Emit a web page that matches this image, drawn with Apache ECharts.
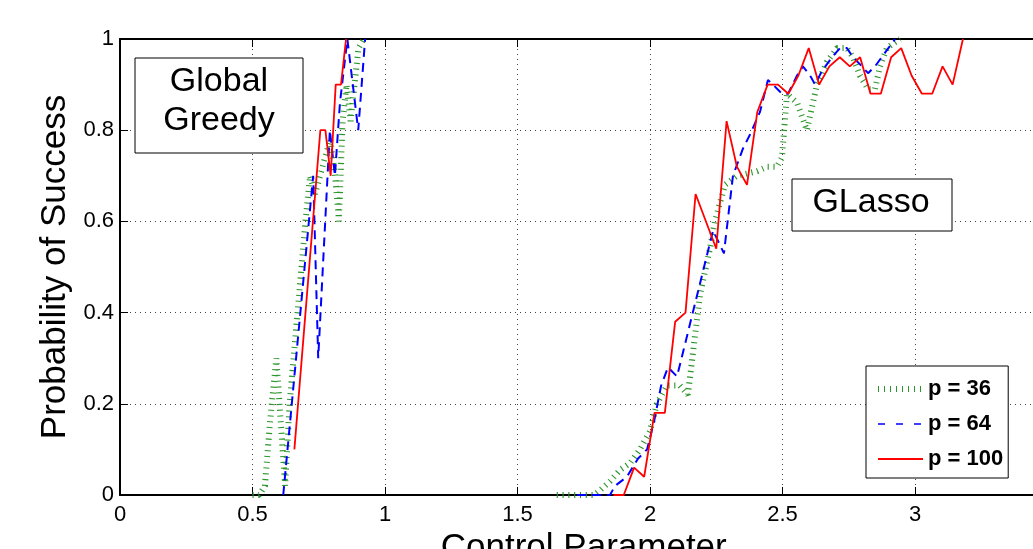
<!DOCTYPE html>
<html>
<head>
<meta charset="utf-8">
<script src="https://cdn.jsdelivr.net/npm/echarts@6.0.0/dist/echarts.min.js"></script>
<style>
  html, body { margin: 0; padding: 0; background: #fff; }
  #main { width: 1033px; height: 549px; }
</style>
</head>
<body>
<div id="main"></div>
<script>
// p = 36 (green, dotted)
var p36GreedyX = [0.500, 0.525, 0.547, 0.566, 0.590, 0.623, 0.640, 0.700, 0.717, 0.736, 0.755, 0.774, 0.793, 0.812, 0.826, 0.840, 0.855, 0.870, 0.885, 0.900, 0.920];
var p36GreedyY = [0, 0, 0.02, 0.16, 0.30, 0.02, 0.20, 0.60, 0.70, 0.66, 0.70, 0.74, 0.78, 0.70, 0.60, 0.82, 0.90, 0.82, 0.90, 0.98, 1.00];
var p36GlassoX = [1.648, 1.790, 1.811, 1.849, 1.887, 1.925, 1.962, 2.000, 2.026, 2.064, 2.113, 2.143, 2.189, 2.226, 2.245, 2.283, 2.328, 2.404, 2.442, 2.479, 2.498, 2.517, 2.555, 2.592, 2.630, 2.668, 2.706, 2.743, 2.766, 2.792, 2.823, 2.849, 2.868, 2.894, 2.917, 2.943];
var p36GlassoY = [0, 0, 0.01, 0.03, 0.055, 0.07, 0.10, 0.14, 0.20, 0.24, 0.24, 0.22, 0.44, 0.54, 0.60, 0.68, 0.70, 0.71, 0.72, 0.72, 0.74, 0.88, 0.86, 0.80, 0.90, 0.95, 0.98, 0.98, 0.96, 0.92, 0.89, 0.89, 0.94, 0.98, 0.99, 1.00];

// p = 64 (blue, dashed)
var p64GreedyX = [0.616, 0.729, 0.748, 0.792, 0.811, 0.830, 0.858, 0.899, 0.925];
var p64GreedyY = [0, 0.70, 0.30, 0.80, 0.70, 0.86, 1.00, 0.80, 1.00];
var p64GlassoX = [1.725, 1.849, 1.868, 1.913, 1.955, 1.989, 2.015, 2.042, 2.068, 2.102, 2.238, 2.279, 2.313, 2.351, 2.377, 2.415, 2.445, 2.464, 2.498, 2.521, 2.555, 2.577, 2.604, 2.623, 2.649, 2.687, 2.717, 2.743, 2.766, 2.800, 2.823, 2.849, 2.887, 2.925];
var p64GlassoY = [0, 0, 0.02, 0.04, 0.08, 0.10, 0.16, 0.24, 0.28, 0.26, 0.58, 0.53, 0.70, 0.76, 0.79, 0.84, 0.91, 0.90, 0.88, 0.88, 0.92, 0.94, 0.92, 0.90, 0.93, 0.96, 0.98, 0.98, 0.96, 0.94, 0.925, 0.94, 0.97, 1.00];

// p = 100 (red, solid)
var p100GreedyX = [0.658, 0.756, 0.775, 0.795, 0.814, 0.834, 0.853];
var p100GreedyY = [0.10, 0.80, 0.80, 0.70, 0.90, 0.90, 1.00];
var p100GlassoX = [1.862, 1.901, 1.940, 1.978, 2.017, 2.056, 2.095, 2.134, 2.172, 2.250, 2.289, 2.328, 2.366, 2.405, 2.444, 2.483, 2.522, 2.560, 2.599, 2.638, 2.677, 2.716, 2.754, 2.793, 2.832, 2.871, 2.910, 2.948, 2.987, 3.026, 3.065, 3.104, 3.142, 3.181];
var p100GlassoY = [0, 0, 0.06, 0.04, 0.18, 0.18, 0.38, 0.40, 0.66, 0.54, 0.82, 0.72, 0.68, 0.84, 0.90, 0.90, 0.88, 0.92, 0.98, 0.90, 0.94, 0.96, 0.94, 0.96, 0.88, 0.88, 0.96, 0.98, 0.92, 0.88, 0.88, 0.94, 0.90, 1.00];

var legendNames = ["p = 36", "p = 64", "p = 100"];

function pairs(xs, ys) {
  return xs.map(function (x, i) { return [x, ys[i]]; });
}

var FONT = "Liberation Sans, Helvetica, Arial, sans-serif";
var green = "#2a952a", blue = "#0000ff", red = "#ff0000";
var greenLine = { color: green, width: 6, type: [1.1, 4.7], cap: "butt" };
var blueLine = { color: blue, width: 2, type: [9, 6] };
var redLine = { color: red, width: 1.8 };
var noSymbol = { color: "rgba(0,0,0,0)", borderWidth: 0, opacity: 0 };

var myChart = echarts.init(document.getElementById("main"));
var option = {
  animation: false,
  backgroundColor: "#fff",
  grid: { left: 120, top: 39, width: 927.5, height: 456, outerBoundsMode: "none", containLabel: false },
  legend: {
    left: 866,
    top: 366,
    orient: "vertical",
    selectedMode: false,
    backgroundColor: "#fff",
    borderColor: "#000",
    borderWidth: 1,
    borderRadius: 0,
    padding: [12, 5, 8, 9],
    itemGap: 13,
    itemWidth: 45,
    itemHeight: 14,
    itemStyle: noSymbol,
    textStyle: { fontFamily: FONT, fontSize: 22, fontWeight: "bold", color: "#000" },
    data: [
      { name: legendNames[0], itemStyle: noSymbol, lineStyle: { color: green, width: 6, type: [1, 5] } },
      { name: legendNames[1], itemStyle: noSymbol, lineStyle: { color: blue, width: 1.6, type: [7, 11] } },
      { name: legendNames[2], itemStyle: noSymbol, lineStyle: { color: red, width: 1.8 } },
    ],
  },
  xAxis: [
    {
      type: "value",
      min: 0,
      max: 3.5,
      interval: 0.5,
      position: "bottom",
      name: "Control Parameter",
      nameLocation: "middle",
      nameGap: 24,
      nameTextStyle: { fontFamily: FONT, fontSize: 35, color: "#000" },
      axisLine: { onZero: false, lineStyle: { color: "#000", width: 2 } },
      axisTick: { inside: true, length: 8, lineStyle: { color: "#000" } },
      axisLabel: { margin: 9, fontFamily: FONT, fontSize: 22, color: "#000" },
      splitLine: { show: true, lineStyle: { color: "#444", width: 1, type: [1, 4] } },
    },
    {
      type: "value",
      min: 0,
      max: 3.5,
      interval: 0.5,
      position: "top",
      axisLine: { onZero: false, lineStyle: { color: "#000", width: 2 } },
      axisTick: { inside: true, length: 8, lineStyle: { color: "#000" } },
      axisLabel: { show: false },
      splitLine: { show: false },
    },
  ],
  yAxis: {
    type: "value",
    min: 0,
    max: 1,
    interval: 0.2,
    name: "Probability of Success",
    nameLocation: "middle",
    nameRotate: 90,
    nameGap: 46,
    nameTextStyle: { fontFamily: FONT, fontSize: 35, color: "#000" },
    axisLine: { onZero: false, lineStyle: { color: "#000", width: 2 } },
    axisTick: { inside: true, length: 8, lineStyle: { color: "#000" } },
    axisLabel: { margin: 6, fontFamily: FONT, fontSize: 22, color: "#000" },
    splitLine: { show: true, lineStyle: { color: "#444", width: 1, type: [1, 4] } },
  },
  graphic: [
    {
      type: "rect",
      shape: { x: 135, y: 58, width: 168, height: 95 },
      style: { fill: "#fff", stroke: "#000", lineWidth: 1 },
      z: 10,
    },
    {
      type: "text",
      x: 219,
      y: 101,
      style: {
        text: "Global\nGreedy",
        fontFamily: FONT,
        fontSize: 34,
        lineHeight: 39,
        fill: "#000",
        align: "center",
        verticalAlign: "middle",
      },
      z: 11,
    },
    {
      type: "rect",
      shape: { x: 792, y: 179, width: 160, height: 52 },
      style: { fill: "#fff", stroke: "#000", lineWidth: 1 },
      z: 10,
    },
    {
      type: "text",
      x: 871,
      y: 203,
      style: {
        text: "GLasso",
        fontFamily: FONT,
        fontSize: 34,
        fill: "#000",
        align: "center",
        verticalAlign: "middle",
      },
      z: 11,
    },
  ],
  series: [
    { name: legendNames[0], type: "line", symbol: "none", lineStyle: greenLine, itemStyle: { color: green }, data: pairs(p36GreedyX, p36GreedyY) },
    { name: legendNames[0], type: "line", symbol: "none", lineStyle: greenLine, itemStyle: { color: green }, data: pairs(p36GlassoX, p36GlassoY) },
    { name: legendNames[1], type: "line", symbol: "none", lineStyle: blueLine, itemStyle: { color: blue }, data: pairs(p64GreedyX, p64GreedyY) },
    { name: legendNames[1], type: "line", symbol: "none", lineStyle: blueLine, itemStyle: { color: blue }, data: pairs(p64GlassoX, p64GlassoY) },
    { name: legendNames[2], type: "line", symbol: "none", lineStyle: redLine, itemStyle: { color: red }, data: pairs(p100GreedyX, p100GreedyY) },
    { name: legendNames[2], type: "line", symbol: "none", lineStyle: redLine, itemStyle: { color: red }, data: pairs(p100GlassoX, p100GlassoY) },
  ],
};

option && myChart.setOption(option);
</script>
</body>
</html>
